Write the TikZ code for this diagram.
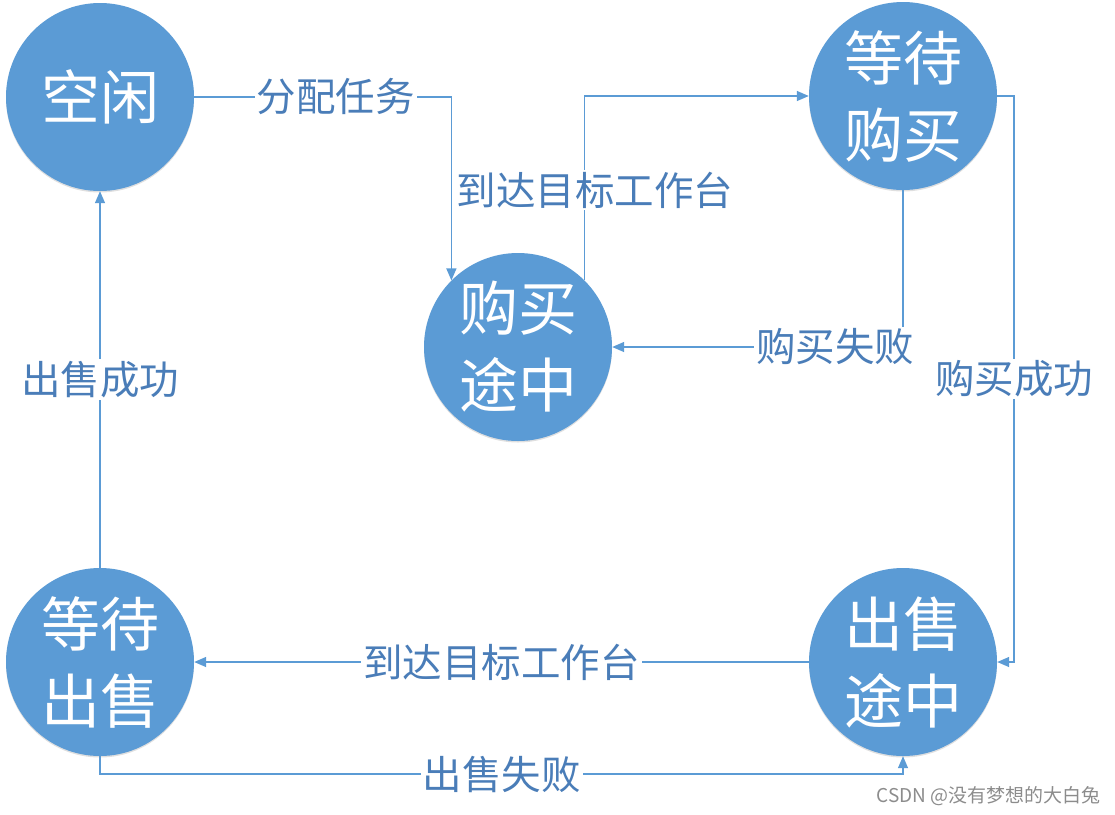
\documentclass[tikz,border=0pt]{standalone}
\usepackage{fontspec}
\setmainfont{Noto Sans CJK SC}
\usetikzlibrary{arrows.meta,shadows}
\definecolor{nodeblue}{HTML}{5B9BD5}
\definecolor{lineblue}{HTML}{5B9BD5}
\definecolor{labelblue}{HTML}{4A7DB8}
\begin{document}
\begin{tikzpicture}[x=1pt,y=-1pt,
  state/.style={circle, fill=nodeblue, text=white, minimum size=188pt, inner sep=0pt,
    align=center, font=\fontsize{59pt}{77pt}\selectfont,
    drop shadow={opacity=0.25, shadow xshift=0pt, shadow yshift=-1.5pt}},
  conn/.style={draw=lineblue, line width=1.4pt, -{Triangle[length=12pt,width=10pt]}},
  lab/.style={fill=white, text=labelblue, inner sep=2pt, font=\fontsize{39.5pt}{45pt}\selectfont}
]
\useasboundingbox (0,0) rectangle (1115,814);
\node[state] (idle) at (100,97) {空闲};
\node[state] (wb) at (903,96) {等待\\购买};
\node[state] (bt) at (518,347) {购买\\途中};
\node[state] (ws) at (100,662) {等待\\出售};
\node[state] (st) at (903,662) {出售\\途中};
\coordinate (r) at (1014,96);
\coordinate (b) at (100,774);

\draw[conn] (idle.east) -| node[lab, pos=0.275] {分配任务} (bt.135);
\draw[conn] (bt.45) |- (wb.west);
\node[lab] (l2) at (595,190) {到达目标工作台};
\draw[conn] (wb.south) |- (bt.east);
\node[lab] (l3) at (835,347) {购买失败};
\draw[conn] (wb.east) -- (r) |- node[lab, pos=0.25] {购买成功} (st.east);
\draw[conn] (st.west) -- node[lab] {到达目标工作台} (ws.east);
\draw[conn] (ws.south) -- (b) -| node[lab, pos=0.25] {出售失败} (st.south);
\draw[conn] (ws.north) -- node[lab] {出售成功} (idle.south);

\node[text=black!45, font=\fontsize{19pt}{22pt}\selectfont, anchor=east, inner sep=0pt] (wm) at (1101,796) {CSDN @没有梦想的大白兔};
\end{tikzpicture}
\end{document}
